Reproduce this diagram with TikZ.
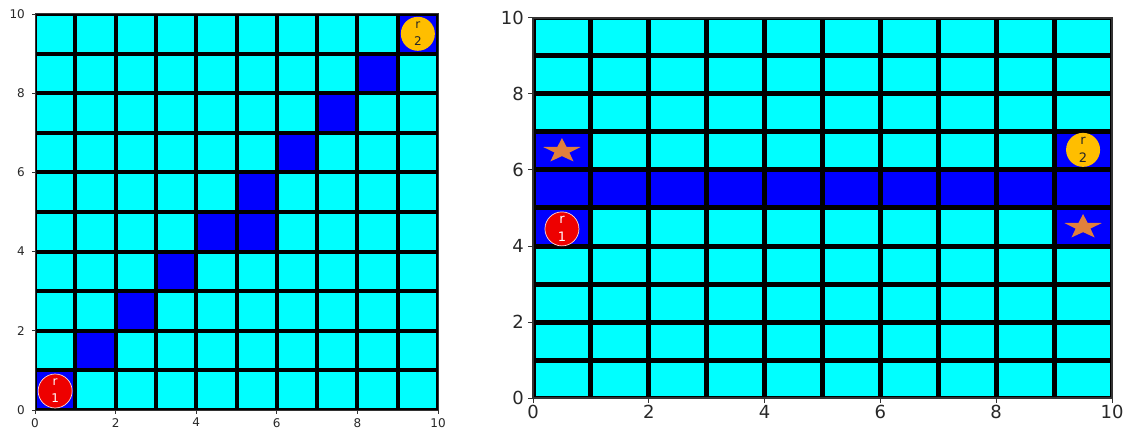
\documentclass[tikz,border=0pt]{standalone}
\usepackage{fontspec}
\setmainfont{DejaVu Sans}
\definecolor{cellcyan}{RGB}{0,255,255}
\definecolor{cellblue}{RGB}{0,0,255}
\definecolor{robotred}{RGB}{238,0,0}
\definecolor{robotgold}{RGB}{255,190,0}
\definecolor{starorange}{RGB}{225,128,60}
\definecolor{labelgray}{RGB}{40,40,40}
\begin{document}
\begin{tikzpicture}[x=1pt,y=-1pt,
  spine/.style={draw=black!80,line width=1pt},
  tickmark/.style={draw=black!80,line width=0.8pt},
  smalllab/.style={inner sep=0pt,text=labelgray,font=\fontsize{12}{14}\selectfont},
  biglab/.style={inner sep=0pt,text=labelgray,font=\fontsize{18}{21}\selectfont},
  robotA/.style={circle,minimum size=34pt,inner sep=0pt,fill=robotred,draw=white!85!robotred,line width=0.7pt,text=white,align=center,font=\fontsize{12}{17}\selectfont},
  robotB/.style={circle,minimum size=34pt,inner sep=0pt,fill=robotgold,text=black!85,align=center,font=\fontsize{12}{17}\selectfont},
  starpic/.pic={\fill[starorange] (90:0.34) -- (126:0.135) -- (162:0.34) -- (198:0.135) -- (234:0.34) -- (270:0.135) -- (306:0.34) -- (342:0.135) -- (18:0.34) -- (54:0.135) -- cycle;}
]
\useasboundingbox (0,0) rectangle (1123,430);
\fill[white] (0,0) rectangle (1123,430);

% ---------------- left grid ----------------
\begin{scope}[shift={(35pt,-410pt)},x=40.3pt,y=39.6pt]
  \fill[cellcyan] (0,0) rectangle (10,10);
  \foreach \c/\r in {0/0,1/1,2/2,3/3,4/4,5/4,5/5,6/6,7/7,8/8,9/9}
    \fill[cellblue] (\c,\r) rectangle ++(1,1);
  \begin{scope}
    \clip (0,0) rectangle (10,10);
    \foreach \i in {0,...,10} {
      \draw[line width=4pt] (\i,-1) -- (\i,11);
      \draw[line width=4pt] (-1,\i) -- (11,\i);
    }
  \end{scope}
  \draw[spine] (0,0) rectangle (10,10);
  \foreach \v in {0,2,...,10} {
    \draw[tickmark] (\v,0) -- ++(0pt,-3.5pt);
    \draw[tickmark] (0,\v) -- ++(-3.5pt,0pt);
    \node[smalllab,anchor=north] (lx\v) at (\v,0) [yshift=-8pt] {\v};
    \node[smalllab,anchor=east] (ly\v) at (0,\v) [xshift=-10pt] {\v};
  }
  \node[robotA] (leftr1) at (0.5,0.48) {r\\1};
  \node[robotB] (leftr2) at (9.5,9.5) {r\\2};
\end{scope}

% ---------------- right grid ----------------
\begin{scope}[shift={(533pt,-398pt)},x=57.9pt,y=38pt]
  \fill[cellcyan] (0,0) rectangle (10,10);
  \foreach \c in {0,...,9}
    \fill[cellblue] (\c,5) rectangle ++(1,1);
  \foreach \c/\r in {0/4,9/4,0/6,9/6}
    \fill[cellblue] (\c,\r) rectangle ++(1,1);
  \begin{scope}
    \clip (0,0) rectangle (10,10);
    \foreach \i in {0,...,10} {
      \draw[line width=5pt] (\i,-1) -- (\i,11);
      \draw[line width=5pt] (-1,\i) -- (11,\i);
    }
  \end{scope}
  \draw[spine,line width=1.2pt] (0,0) rectangle (10,10);
  \foreach \v in {0,2,...,10} {
    \draw[tickmark,line width=1pt] (\v,0) -- ++(0pt,-5pt);
    \draw[tickmark,line width=1pt] (0,\v) -- ++(-5pt,0pt);
    \node[biglab,anchor=north] (rx\v) at (\v,0) [yshift=-7pt] {\v};
    \node[biglab,anchor=east] (ry\v) at (0,\v) [xshift=-9pt] {\v};
  }
  \pic (star1) at (0.5,6.5) {starpic};
  \pic (star2) at (9.5,4.5) {starpic};
  \node[robotA,font=\fontsize{13}{18}\selectfont] (rightr1) at (0.5,4.45) {r\\1};
  \node[robotB,font=\fontsize{13}{18}\selectfont] (rightr2) at (9.5,6.53) {r\\2};
\end{scope}
\end{tikzpicture}
\end{document}
